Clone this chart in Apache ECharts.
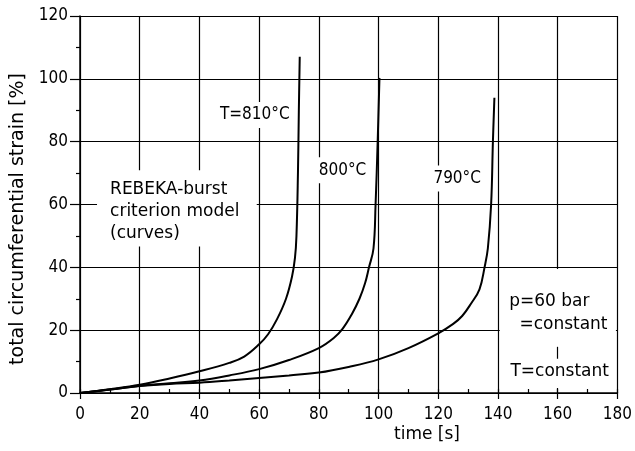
<!DOCTYPE html>
<html>
<head>
<meta charset="utf-8">
<script src="https://cdn.jsdelivr.net/npm/echarts@6/dist/echarts.min.js"></script>
<style>
html,body{margin:0;padding:0;background:#fff;}
#c{width:635px;height:451px;}
</style>
</head>
<body>
<div id="c"></div>
<script>
// ---- data ----
const xTicks = [0, 20, 40, 60, 80, 100, 120, 140, 160, 180];
const yTicks = [0, 20, 40, 60, 80, 100, 120];
const curve810 = [[0,0],[10,1.2],[20,2.6],[30,4.6],[40,6.9],[50,9.6],[55,11.6],[60,15.5],[63,18.7],[66,23.5],[69,30],[71,37],[72,43],[72.5,50],[73,70],[73.3,90],[73.6,107]];
const curve800 = [[0,0],[10,1.1],[20,2.3],[30,3.1],[40,4.0],[50,5.6],[60,7.6],[70,10.5],[80,14.3],[85,17.5],[88,20.5],[91,25],[93.6,30],[95.5,35],[96.8,40],[98.3,46],[99,60],[99.7,80],[100.3,100.3]];
const curve790 = [[0,0],[10,1.1],[20,2.2],[30,2.9],[40,3.3],[50,4.0],[60,4.8],[70,5.6],[80,6.5],[90,8.3],[100,10.7],[110,14.3],[120,19],[125,22],[128,24.5],[131,28.5],[133.8,33],[135.5,40],[136.6,46],[137.7,60],[138.3,80],[138.8,94]];
const tempLabels = [
  {name: 'T=810°C', pos: [46.2, 88.5]},
  {name: '800°C', pos: [79.3, 70.9]},
  {name: '790°C', pos: [117.7, 68.3]}
];
const noteLabels = [
  {name: 'REBEKA-burst\ncriterion model\n(curves)', pos: [9.4, 57.8]},
  {name: 'p=60 bar', pos: [143.1, 29.0]},
  {name: '=constant', pos: [146.5, 21.7]},
  {name: 'T=constant', pos: [143.5, 6.8]}
];
const xName = 'time [s]';
const yName = 'total circumferential strain [%]';

const FONT_C = '"DejaVu Sans Condensed", "Liberation Sans Narrow", "DejaVu Sans", sans-serif';
const FONT = '"DejaVu Sans", sans-serif';
const INK = '#000';

const chart = echarts.init(document.getElementById('c'));
const lineStyle = {color: INK, width: 2};
function curveSeries(data) {
  return {type: 'line', data: data, showSymbol: false, symbol: 'none', smooth: 0.4,
          lineStyle: lineStyle, z: 5, silent: true};
}
function labelSeries(list, font, size) {
  return {
    type: 'scatter', symbolSize: 0, z: 6, silent: true,
    itemStyle: {opacity: 1},
    data: list.map(a => ({name: a.name, value: a.pos})),
    label: {show: true, position: [0, 0], align: 'left', verticalAlign: 'middle', opacity: 1,
      formatter: p => p.name, color: INK, fontFamily: font, fontSize: size, lineHeight: 22,
      backgroundColor: '#fff', padding: [2, 2]}
  };
}
chart.setOption({
  animation: false,
  backgroundColor: '#fff',
  grid: {left: 80, right: 17, top: 16, bottom: 58},
  xAxis: [{
    type: 'value', min: xTicks[0], max: xTicks[xTicks.length-1], interval: 20,
    axisLine: {show: true, lineStyle: {color: INK, width: 1.5}},
    axisTick: {show: true, length: 6, lineStyle: {color: INK, width: 1.2}},
    axisLabel: {color: INK, fontFamily: FONT_C, fontSize: 17, margin: 13},
    splitLine: {show: true, lineStyle: {color: INK, width: 1.2}}
  }, {
    type: 'value', min: xTicks[0], max: xTicks[xTicks.length-1], interval: 10, position: 'bottom',
    axisLine: {show: false},
    axisTick: {show: true, inside: true, length: 4, lineStyle: {color: INK, width: 1.2}},
    axisLabel: {show: false}, splitLine: {show: false}
  }],
  yAxis: {
    type: 'value', min: yTicks[0], max: yTicks[yTicks.length-1], interval: 20,
    axisLine: {show: true, lineStyle: {color: INK, width: 1.5}},
    axisTick: {show: true, length: 10, lineStyle: {color: INK, width: 1.2}},
    minorTick: {show: true, splitNumber: 2, length: 4, lineStyle: {color: INK, width: 1.2}},
    axisLabel: {color: INK, fontFamily: FONT_C, fontSize: 17, margin: 12},
    splitLine: {show: true, lineStyle: {color: INK, width: 1.2}}
  },
  graphic: [
    {type: 'text', x: 18, y: 219, rotation: Math.PI/2,
     style: {text: yName, fill: INK, font: '19px ' + FONT, textAlign: 'center', textVerticalAlign: 'middle'}},
    {type: 'text', x: 427, y: 435,
     style: {text: xName, fill: INK, font: '17px ' + FONT, textAlign: 'center', textVerticalAlign: 'middle'}}
  ],
  series: [
    {
      type: 'line', data: [], z: 2, silent: true,
      markArea: {silent: true, itemStyle: {color: '#fff'},
        data: [
          [{coord: [5.7, 47.3]}, {coord: [59.2, 70.9]}],
          [{coord: [140.6, 1.6]}, {coord: [179.5, 39.5]}]
        ]},
      markLine: {silent: true, symbol: 'none', label: {show: false},
        lineStyle: {color: INK, width: 1.2, type: 'solid'},
        data: [[{coord: [160, 10.5]}, {coord: [160, 14.7]}]]}
    },
    curveSeries(curve810),
    curveSeries(curve800),
    curveSeries(curve790),
    labelSeries(tempLabels, FONT_C, 17),
    labelSeries(noteLabels, FONT, 17)
  ]
});
</script>
</body>
</html>
